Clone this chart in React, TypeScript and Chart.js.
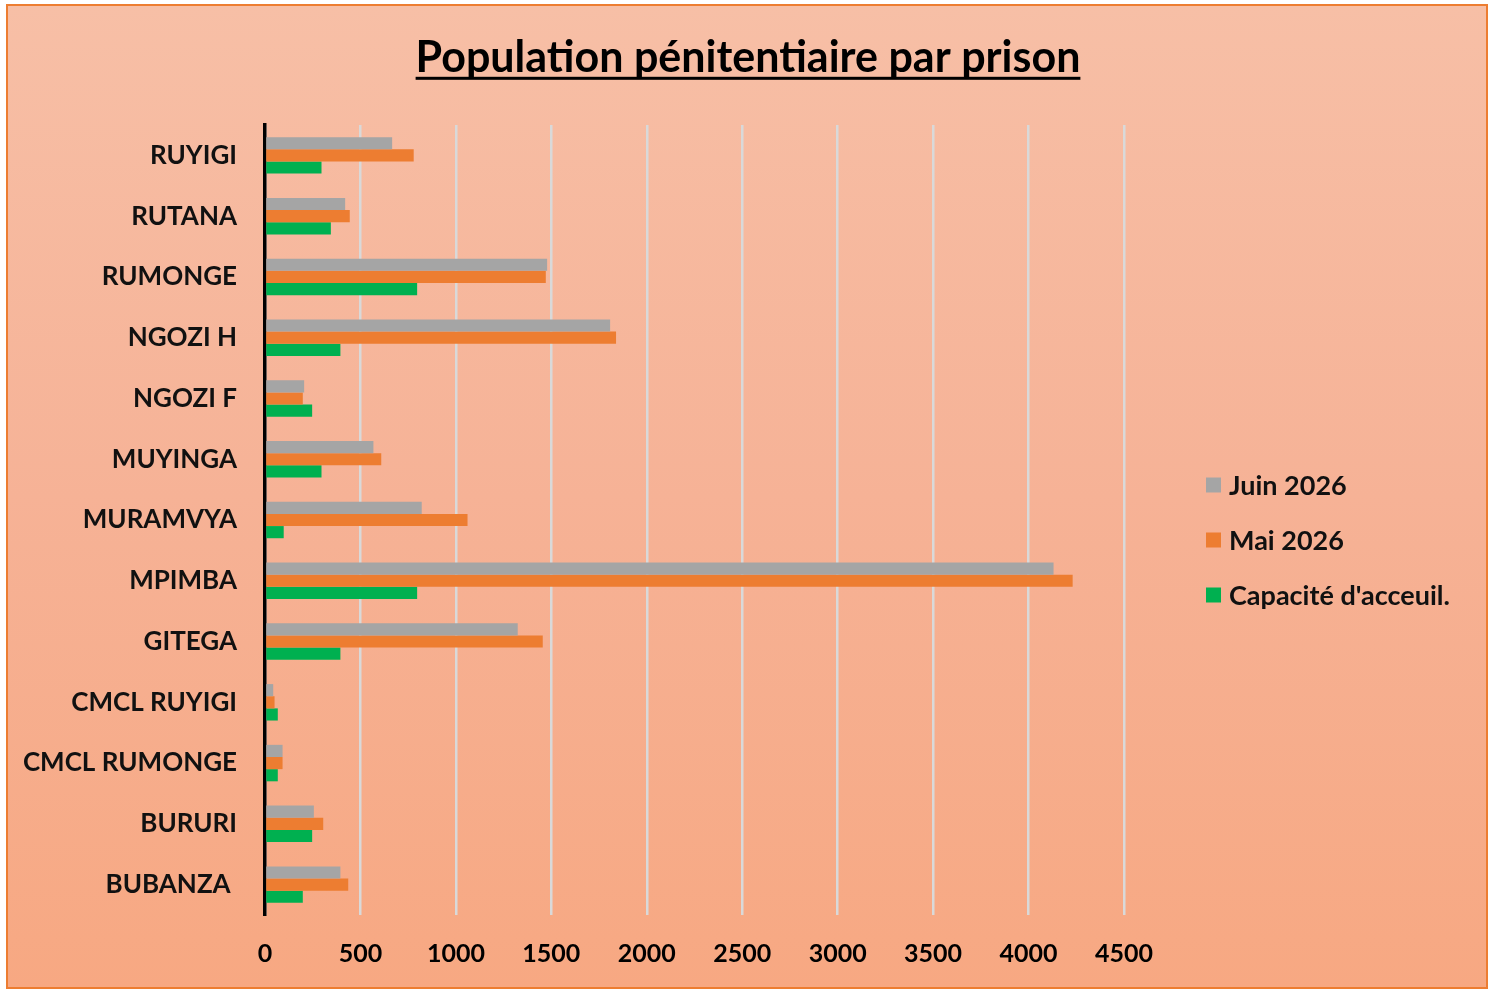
import React, { useEffect, useRef } from "react";
import { Chart, registerables } from "chart.js";

Chart.register(...registerables);

const categories = [
  "RUYIGI",
  "RUTANA",
  "RUMONGE",
  "NGOZI H",
  "NGOZI F",
  "MUYINGA",
  "MURAMVYA",
  "MPIMBA",
  "GITEGA",
  "CMCL RUYIGI",
  "CMCL RUMONGE",
  "BURURI",
  "BUBANZA ",
];
const juin2026 = [666, 420, 1478, 1808, 205, 568, 821, 4131, 1324, 43, 92, 256, 395];
const mai2026 = [779, 444, 1471, 1839, 198, 609, 1061, 4231, 1455, 50, 92, 305, 436];
const capacite = [296, 345, 797, 395, 247, 296, 98, 797, 395, 67, 67, 247, 198];
const seriesLabels = ["Juin 2026", "Mai 2026", "Capacité d'acceuil."];
const seriesColors = ["#A5A5A5", "#ED7D31", "#00B050"];
const xMin = 0;
const xMax = 4500;
const xStep = 500;
const titleText = "Population pénitentiaire par prison";

const FONT = "Lato, 'Open Sans', sans-serif";
const TITLE_SIZE = 43;
const TITLE_PAD_TOP = 32;
const TITLE_PAD_BOTTOM = 41.4;

const titleUnderline = {
  id: "titleUnderline",
  afterDraw(chart: any) {
    const ctx = chart.ctx;
    ctx.save();
    ctx.font = `bold ${TITLE_SIZE}px ${FONT}`;
    const w = ctx.measureText(titleText).width;
    const cx = chart.width / 2;
    const y = TITLE_PAD_TOP + (TITLE_SIZE * 1.2) / 2 + 19;
    ctx.fillStyle = "#000";
    ctx.fillRect(cx - w / 2, y, w, 3);
    ctx.restore();
  },
};

const sideLegend = {
  id: "sideLegend",
  afterDraw(chart: any) {
    const ctx = chart.ctx;
    ctx.save();
    ctx.font = `bold 27px ${FONT}`;
    ctx.textBaseline = "middle";
    ctx.textAlign = "left";
    chart.data.datasets.forEach((ds: any, i: number) => {
      const y = 485 + i * 55;
      ctx.fillStyle = ds.backgroundColor;
      ctx.fillRect(1206, y - 7.5, 15, 15);
      ctx.fillStyle = "#111";
      ctx.fillText(ds.label, 1229, y + 1);
    });
    ctx.restore();
  },
};

export default function App() {
  const ref = useRef<HTMLCanvasElement | null>(null);

  useEffect(() => {
    if (!ref.current) return;
    const seriesValues = [juin2026, mai2026, capacite];
    const chart = new Chart(ref.current, {
      type: "bar",
      data: {
        labels: categories,
        datasets: seriesValues.map((vals, i) => ({
          label: seriesLabels[i],
          data: vals,
          backgroundColor: seriesColors[i],
          borderWidth: 0,
          categoryPercentage: 0.6,
          barPercentage: 1.0,
          yAxisID: "y",
        })),
      },
      options: {
        indexAxis: "y",
        responsive: false,
        animation: false,
        layout: { padding: 0 },
        plugins: {
          legend: { display: false },
          tooltip: { enabled: false },
          title: {
            display: true,
            text: titleText,
            color: "#000",
            align: "center",
            font: { family: FONT, size: TITLE_SIZE, weight: "bold", lineHeight: 1.2 },
            padding: { top: TITLE_PAD_TOP, bottom: TITLE_PAD_BOTTOM },
          },
        },
        scales: {
          x: {
            type: "linear",
            min: xMin,
            max: xMax,
            ticks: {
              stepSize: xStep,
              color: "#000",
              font: { family: FONT, size: 25, weight: "bold" },
              padding: 24,
              callback: (v: any) => String(v),
            },
            grid: {
              color: "#D9D9D9",
              lineWidth: 2.5,
              drawTicks: false,
            },
            border: { display: false },
            afterFit: (s: any) => {
              s.height = 74;
            },
          },
          y: {
            type: "category",
            position: "left",
            ticks: {
              color: "#111",
              font: { family: FONT, size: 26, weight: "bold" },
              padding: 28,
            },
            grid: { display: false, drawTicks: false },
            border: { display: true, color: "#000", width: 3.5 },
            afterFit: (s: any) => {
              s.width = 265;
            },
          },
          ySpace: {
            type: "category",
            position: "right",
            display: true,
            ticks: { display: false },
            grid: { display: false, drawTicks: false },
            border: { display: false },
            afterFit: (s: any) => {
              s.width = 372;
            },
          },
        },
      },
      plugins: [titleUnderline, sideLegend],
    } as any);
    return () => chart.destroy();
  }, []);

  return (
    <div style={{ position: "absolute", left: 0, top: 0, width: 1496, height: 989, background: "#fff", overflow: "hidden" }}>
      <div
        style={{
          position: "absolute",
          left: 6,
          top: 4,
          width: 1482,
          height: 985,
          boxSizing: "border-box",
          border: "2px solid #ED7D31",
          background: "linear-gradient(to bottom, #F7BFA6 0%, #F6B296 50%, #F7A882 100%)",
        }}
      />
      <canvas ref={ref} width={1496} height={989} style={{ position: "absolute", left: 0, top: 0, width: 1496, height: 989 }} />
    </div>
  );
}
